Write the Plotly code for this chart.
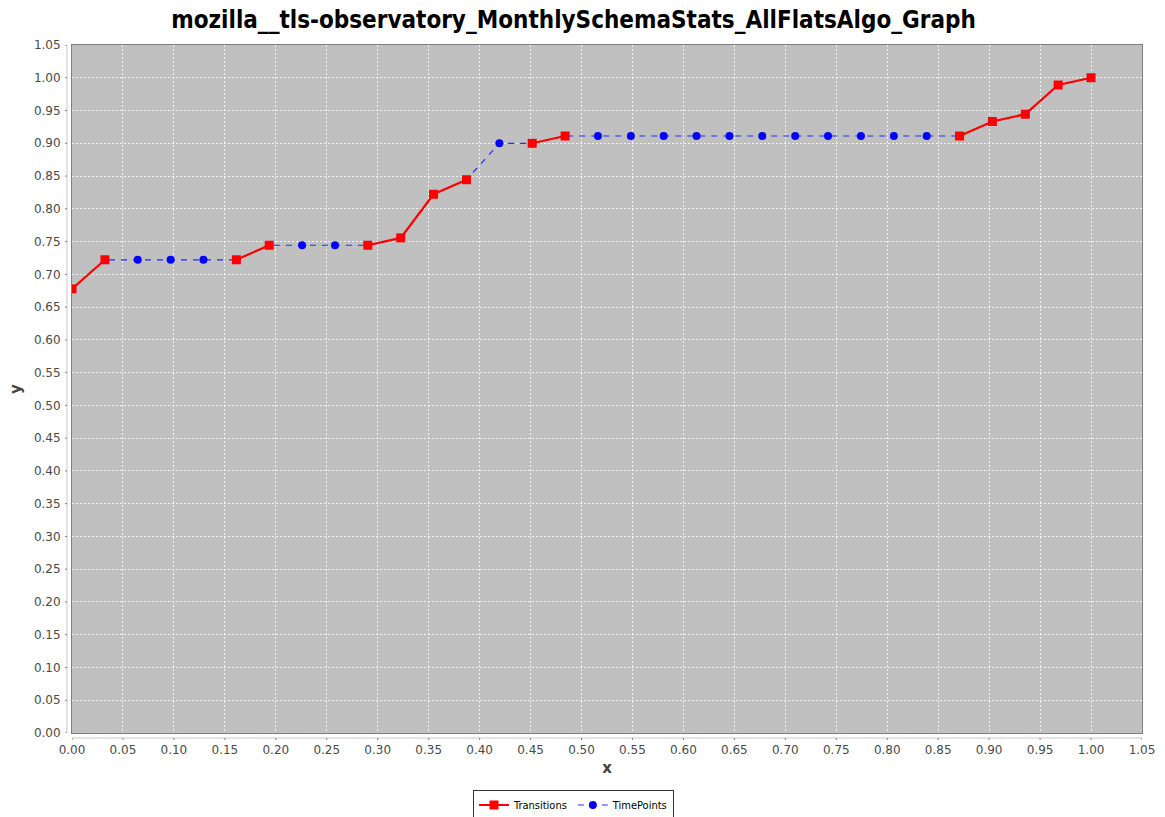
import plotly.graph_objects as go

# Normalised time axis (32 monthly snapshots)
x_vals = [0.0, 0.0323, 0.0645, 0.0968, 0.129, 0.1613, 0.1935, 0.2258, 0.2581, 0.2903,
          0.3226, 0.3548, 0.3871, 0.4194, 0.4516, 0.4839, 0.5161, 0.5484, 0.5806, 0.6129,
          0.6452, 0.6774, 0.7097, 0.7419, 0.7742, 0.8065, 0.8387, 0.871, 0.9032, 0.9355,
          0.9677, 1.0]

# Every time point
timepoints = [0.6778, 0.7222, 0.7222, 0.7222, 0.7222, 0.7222, 0.7444, 0.7444, 0.7444, 0.7444,
              0.7556, 0.8222, 0.8444, 0.9, 0.9, 0.9111, 0.9111, 0.9111, 0.9111, 0.9111,
              0.9111, 0.9111, 0.9111, 0.9111, 0.9111, 0.9111, 0.9111, 0.9111, 0.9333, 0.9444,
              0.9889, 1.0]

# Only the points taking part in a transition (gaps = flat stretches)
transitions = [0.6778, 0.7222, None, None, None, 0.7222, 0.7444, None, None, 0.7444,
               0.7556, 0.8222, 0.8444, None, 0.9, 0.9111, None, None, None, None,
               None, None, None, None, None, None, None, 0.9111, 0.9333, 0.9444,
               0.9889, 1.0]

tick_vals = [round(i * 0.05, 2) for i in range(22)]
tick_text = ["%.2f" % v for v in tick_vals]

W, H = 1165, 817
L, R, T, B = 72, 23, 45, 84
pw, ph = W - L - R, H - T - B
center_px = 573.5

fig = go.Figure()
fig.add_trace(go.Scatter(
    x=x_vals, y=timepoints, name="TimePoints", mode="lines+markers",
    line=dict(color="#2a2aff", width=1.2, dash="6px,6px"),
    marker=dict(symbol="circle", size=8, color="#0000ff"),
))
fig.add_trace(go.Scatter(
    x=x_vals, y=transitions, name="Transitions", mode="lines+markers",
    connectgaps=False,
    line=dict(color="#ff0000", width=2.2),
    marker=dict(symbol="square", size=9, color="#ff0000"),
))

axis_common = dict(
    range=[0, 1.05], tickmode="array", tickvals=tick_vals, ticktext=tick_text,
    showgrid=True, gridcolor="rgba(255,255,255,0.8)", griddash="2px,2px", gridwidth=0.6,
    zeroline=False, showline=True, linecolor="#808080", linewidth=1, mirror=True,
    ticks="", tickfont=dict(family="DejaVu Sans", size=12, color="#4a4a4a"),
)

fig.update_layout(
    width=W, height=H,
    margin=dict(l=L, r=R, t=T, b=B, autoexpand=False),
    paper_bgcolor="#ffffff", plot_bgcolor="#c0c0c0",
    title=dict(text="<b>mozilla__tls-observatory_MonthlySchemaStats_AllFlatsAlgo_Graph</b>",
               x=center_px / W, xref="container", xanchor="center",
               y=1 - 20 / H, yanchor="middle",
               font=dict(family="DejaVu Sans Condensed, DejaVu Sans", size=24, color="#000000")),
    xaxis=dict(**axis_common, ticklabelstandoff=6,
               title=dict(text="<b>x</b>", font=dict(family="DejaVu Sans", size=15, color="#444444"),
                          standoff=6)),
    yaxis=dict(**axis_common, ticklabelstandoff=8,
               title=dict(text="<b>y</b>", font=dict(family="DejaVu Sans", size=15, color="#444444"),
                          standoff=8)),
    legend=dict(orientation="h", x=(center_px - L) / pw, xanchor="center",
                y=-(805 - T - ph) / ph, yanchor="middle", traceorder="reversed",
                bordercolor="#333333", borderwidth=1, bgcolor="#ffffff",
                font=dict(family="DejaVu Sans Condensed, DejaVu Sans", size=11, color="#000000"),
                itemwidth=30, tracegroupgap=0),
    showlegend=True,
)

# Offset axis lines with small tick marks, as drawn beside the plot area
gap = 5
shapes = [
    dict(type="line", xref="paper", yref="paper", x0=0, x1=1,
         y0=-gap / ph, y1=-gap / ph, line=dict(color="#c8c8c8", width=1)),
    dict(type="line", xref="paper", yref="paper", x0=-gap / pw, x1=-gap / pw,
         y0=0, y1=1, line=dict(color="#c8c8c8", width=1)),
]
for v in tick_vals:
    shapes.append(dict(type="line", xref="x", yref="paper", x0=v, x1=v,
                       y0=-gap / ph, y1=-(gap + 2) / ph, line=dict(color="#808080", width=1)))
    shapes.append(dict(type="line", xref="paper", yref="y", y0=v, y1=v,
                       x0=-gap / pw, x1=-(gap + 2) / pw, line=dict(color="#808080", width=1)))
fig.update_layout(shapes=shapes)

fig.write_html("out.html")
